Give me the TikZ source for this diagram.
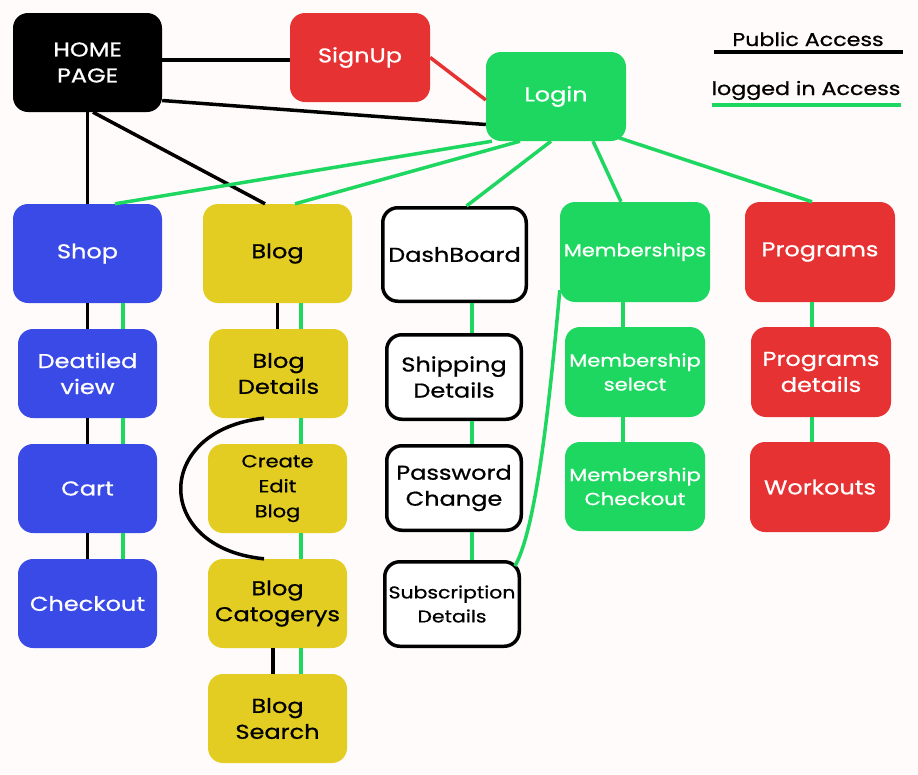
\documentclass[tikz,border=0pt]{standalone}
\usepackage{fontspec}
\setmainfont{Poppins}[FakeStretch=1.2,FakeBold=0.8]
\usetikzlibrary{positioning}
\definecolor{pagebg}{RGB}{255,251,250}
\definecolor{sitered}{RGB}{230,50,50}
\definecolor{sitegreen}{RGB}{30,215,96}
\definecolor{siteblue}{RGB}{58,74,230}
\definecolor{siteyellow}{RGB}{227,205,34}

\begin{document}
\begin{tikzpicture}[x=1pt,y=-1pt,
  box/.style={rounded corners=15pt,align=center,inner sep=1pt,font=\fontsize{20}{26}\selectfont},
  bigbox/.style={box,minimum width=149pt,minimum height=99pt},
  smallbox/.style={box,minimum width=139pt,minimum height=89pt},
  outlinebox/.style={box,draw=black,line width=3.5pt,fill=white,text=black},
  public/.style={line width=3.5pt,black},
  logged/.style={line width=3.5pt,sitegreen}]
\fill[pagebg] (0,0) rectangle (918,774);

\node[bigbox,fill=black,text=white] (home) at (87.5,62.5) {HOME\\PAGE};
\node[box,fill=sitered,text=white,minimum width=140pt,minimum height=89pt] (signup) at (360,57.5) {SignUp};
\node[box,fill=sitegreen,text=white,minimum width=140pt,minimum height=89pt] (login) at (556,96.5) {Login};

\node[bigbox,fill=siteblue,text=white] (shop) at (87.5,253.5) {Shop};
\node[bigbox,fill=siteyellow,text=black] (blog) at (277.5,253.5) {Blog};
\node[outlinebox,minimum width=143.5pt,minimum height=93.5pt] (dash) at (454.5,254.5) {DashBoard};
\node[box,fill=sitegreen,text=white,minimum width=150pt,minimum height=100pt,font=\fontsize{17.5}{24}\selectfont] (memb) at (635,252) {Memberships};
\node[box,fill=sitered,text=white,minimum width=150pt,minimum height=100pt] (prog) at (820,252) {Programs};

\node[smallbox,fill=siteblue,text=white] (detail) at (87.5,373.5) {Deatiled\\view};
\node[smallbox,fill=siteblue,text=white] (cart) at (87.5,488.5) {Cart};
\node[smallbox,fill=siteblue,text=white] (checkout) at (87.5,603.5) {Checkout};

\node[smallbox,fill=siteyellow,text=black] (blogdet) at (278.5,373.5) {Blog\\Details};
\node[smallbox,fill=siteyellow,text=black,font=\fontsize{17.5}{25}\selectfont] (create) at (277.5,488.5) {Create\\Edit\\Blog};
\node[smallbox,fill=siteyellow,text=black] (catog) at (277.5,603.5) {Blog\\Catogerys};
\node[smallbox,fill=siteyellow,text=black] (search) at (277.5,718.5) {Blog\\Search};

\node[outlinebox,minimum width=134.5pt,minimum height=84.5pt] (ship) at (454,377) {Shipping\\Details};
\node[outlinebox,minimum width=134.5pt,minimum height=84.5pt] (pass) at (454,488) {Password\\Change};
\node[outlinebox,minimum width=134.5pt,minimum height=84.5pt,font=\fontsize{17}{24}\selectfont] (subs) at (452,604) {Subscription\\Details};

\node[box,fill=sitegreen,text=white,minimum width=140pt,minimum height=90pt,font=\fontsize{17.5}{24}\selectfont] (select) at (635,372) {Membership\\select};
\node[box,fill=sitegreen,text=white,minimum width=140pt,minimum height=89pt,font=\fontsize{17.5}{24}\selectfont] (mcheck) at (635,486.5) {Membership\\Checkout};
\node[box,fill=sitered,text=white,minimum width=140pt,minimum height=90pt] (progdet) at (821,372) {Programs\\details};
\node[box,fill=sitered,text=white,minimum width=140pt,minimum height=90pt] (workouts) at (820,487) {Workouts};

\draw[public] ([yshift=2.5pt]home.east) -- ([yshift=-2.5pt]signup.west);
\draw[line width=3.5pt,sitered] (signup.east) -- ([yshift=-3.5pt]login.west);
\draw[public] ([yshift=-38pt]home.east) -- ([yshift=-28pt]login.west);
\draw[public] (home.south) -- (shop.north);
\draw[public] ([xshift=5.5pt]home.south) -- ([xshift=-12.5pt]blog.north);

\draw[logged] ([xshift=-64pt]login.south) -- ([xshift=27.5pt]shop.north);
\draw[logged] ([xshift=-36pt]login.south) -- ([xshift=17.5pt]blog.north);
\draw[logged] ([xshift=-5pt]login.south) -- ([xshift=12pt]dash.north);
\draw[logged] ([xshift=37pt]login.south) -- ([xshift=-14pt]memb.north);
\draw[logged] ([xshift=-9pt,yshift=4pt]login.south east) -- ([xshift=-8pt]prog.north);

\draw[public] (shop.south) -- (detail.north);
\draw[public] (detail.south) -- (cart.north);
\draw[public] (cart.south) -- (checkout.north);
\draw[logged] ([xshift=35.5pt]shop.south) -- ([xshift=35.5pt]detail.north);
\draw[logged] ([xshift=35.5pt]detail.south) -- ([xshift=35.5pt]cart.north);
\draw[logged] ([xshift=35.5pt]cart.south) -- ([xshift=35.5pt]checkout.north);

\draw[public] (blog.south) -- ([xshift=-1pt]blogdet.north);
\draw[public] ([xshift=-14.5pt]blogdet.south) .. controls (153,430) and (153,548) .. ([xshift=-13.5pt]catog.north);
\draw[public] ([xshift=-4.5pt]catog.south) -- ([xshift=-4.5pt]search.north);
\draw[logged] ([xshift=23.5pt]blog.south) -- ([xshift=22.5pt]blogdet.north);
\draw[logged] ([xshift=22.5pt]blogdet.south) -- ([xshift=23.5pt]create.north);
\draw[logged] ([xshift=23.5pt]create.south) -- ([xshift=23.5pt]catog.north);
\draw[logged] ([xshift=23.5pt]catog.south) -- ([xshift=23.5pt]search.north);

\draw[logged] ([xshift=17.5pt]dash.south) -- ([xshift=18pt]ship.north);
\draw[logged] ([xshift=18pt]ship.south) -- ([xshift=18pt]pass.north);
\draw[logged] ([xshift=18pt]pass.south) -- ([xshift=20pt]subs.north);
\draw[logged] ([xshift=-6pt,yshift=-6pt]subs.north east) .. controls (535,530) and (548,420) .. ([yshift=12pt]memb.south west);

\draw[logged] ([xshift=-12pt]memb.south) -- ([xshift=-12pt]select.north);
\draw[logged] ([xshift=-12pt]select.south) -- ([xshift=-12pt]mcheck.north);
\draw[logged] ([xshift=-8pt]prog.south) -- ([xshift=-9pt]progdet.north);
\draw[logged] ([xshift=-9pt]progdet.south) -- ([xshift=-8pt]workouts.north);

\coordinate (pubL) at (714,52);
\coordinate (pubR) at (903,52);
\coordinate (logL) at (712,105);
\coordinate (logR) at (901,105);
\draw[public] (pubL) -- (pubR);
\draw[logged] (logL) -- (logR);
\node[font=\fontsize{18.5}{20}\selectfont,anchor=base] (publab) at (808,46) {Public Access};
\node[font=\fontsize{18.5}{20}\selectfont,anchor=base] (loglab) at (806,95) {logged in Access};
\end{tikzpicture}
\end{document}
